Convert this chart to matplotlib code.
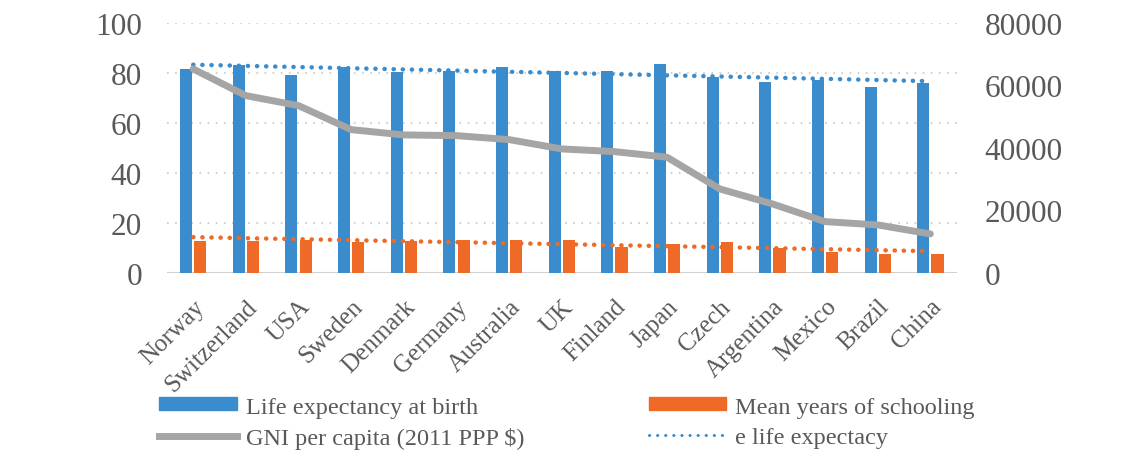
import matplotlib.pyplot as plt
import numpy as np
from matplotlib.lines import Line2D
from matplotlib.patches import Patch

plt.rcParams['font.family'] = ['Liberation Serif', 'DejaVu Serif']

countries = ["Norway", "Switzerland", "USA", "Sweden", "Denmark", "Germany", "Australia",
             "UK", "Finland", "Japan", "Czech", "Argentina", "Mexico", "Brazil", "China"]
life_exp = [81.6, 83.2, 79.2, 82.3, 80.3, 80.9, 82.5, 80.7, 80.8, 83.6, 78.5, 76.3, 77.0, 74.5, 75.9]
schooling = [12.7, 12.9, 13.0, 12.3, 12.7, 13.1, 13.0, 13.3, 10.3, 11.5, 12.3, 9.9, 8.5, 7.5, 7.5]
gni = [65280, 56740, 53540, 45860, 44160, 43940, 42660, 39680, 38820, 37020, 26880, 22080, 16420, 15360, 12480]
# linear trendlines, read at first and last category
life_trend = [83.3, 76.7]
school_trend = [14.3, 8.7]

blue = '#3A8CCC'
orange = '#EE6A26'
grey = '#A5A5A5'
txt = '#595959'

fig = plt.figure(figsize=(11.43, 4.52), dpi=100)
ax = fig.add_axes([0.146, 0.394, 0.691, 0.553])
x = np.arange(len(countries))
w = 0.23

ax.bar(x - 0.135, life_exp, width=w, color=blue, zorder=2)
ax.bar(x + 0.135, schooling, width=w, color=orange, zorder=2)
ends = [x[0], x[-1]]
ax.plot(ends, life_trend, color=blue, lw=3.2, linestyle=(0, (0.05, 2.0)),
        dash_capstyle='round', zorder=3)
ax.plot(ends, school_trend, color=orange, lw=3.2, linestyle=(0, (0.05, 2.0)),
        dash_capstyle='round', zorder=3)

ax.set_ylim(0, 100)
ax.set_yticks(range(0, 101, 20))
ax.set_xlim(-0.5, len(countries) - 0.5)
for y in range(20, 101, 20):
    ax.axhline(y, color='#D0D0D0', lw=1.5, linestyle=(0, (0.8, 3.1)), zorder=1)
ax.axhline(0, color='#D0D0D0', lw=1.5, zorder=1)
for s in ax.spines.values():
    s.set_visible(False)
ax.tick_params(axis='y', length=0, pad=18, labelsize=22.5, labelcolor=txt)
ax.set_xticks(x)
ax.set_xticklabels(countries, rotation=45, ha='right', rotation_mode='anchor',
                   fontsize=18, color=txt)
ax.tick_params(axis='x', length=0, pad=16)

ax2 = ax.twinx()
ax2.plot(x, gni, color=grey, lw=5, solid_capstyle='round', solid_joinstyle='round', zorder=4)
ax2.set_ylim(0, 80000)
ax2.set_yticks(range(0, 80001, 20000))
for s in ax2.spines.values():
    s.set_visible(False)
ax2.tick_params(axis='y', length=0, pad=20, labelsize=22.5, labelcolor=txt)

handles = [Patch(color=blue), Line2D([], [], color=grey, lw=5),
           Patch(color=orange),
           Line2D([], [], color=blue, lw=2.2, linestyle=(0, (0.05, 2.6)), dash_capstyle='round')]
labels = ["Life expectancy at birth", "GNI per capita (2011 PPP $)",
          "Mean years of schooling", "e life expectacy"]
leg = fig.legend(handles, labels, ncol=2, loc='lower left', bbox_to_anchor=(0.131, -0.016),
                 borderaxespad=0, frameon=False, fontsize=17.5, handlelength=3.2,
                 handleheight=0.45, handletextpad=0.37, columnspacing=5.1, labelspacing=0.37)
for t in leg.get_texts():
    t.set_color(txt)

fig.savefig('out.png', dpi=100)
